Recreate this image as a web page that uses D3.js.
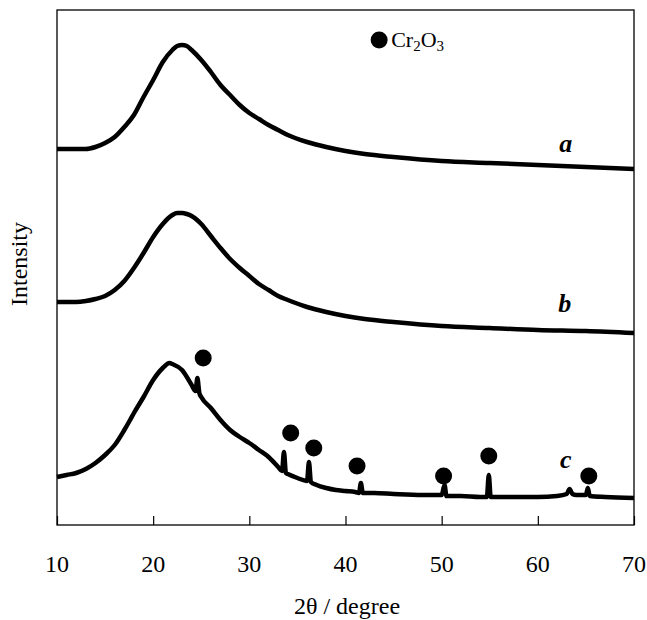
<!DOCTYPE html>
<html><head><meta charset="utf-8">
<script src="https://cdn.jsdelivr.net/npm/d3@7"></script>
<style>body{margin:0;background:#fff}svg{display:block}</style>
</head><body>
<svg id="c" width="647" height="620" font-family="'Liberation Serif','Times New Roman',serif"></svg>
<script>
const xTicks=[10,20,30,40,50,60,70];
const seriesA=[[10,376],[11,376],[12,376],[13,376],[14,378],[15,382],[16,388],[17,398],[18,410],[19,428],[20,445],[21,463],[22,475],[22.5,479],[23,480],[23.5,479],[24,475],[25,465],[26,453],[27,440],[28,430],[29,420],[30,412],[31,406],[32,400],[33,395],[34,390],[36,383],[38,378],[40,374],[42,371],[45,368],[50,364],[55,362],[60,360],[65,358],[70,356]];
const seriesB=[[10,223],[11,223],[12,223],[13,224],[14,226],[15,229],[16,235],[17,244],[18,257],[19,272],[20,288],[21,301],[22,310],[22.5,312],[23,312],[23.5,311],[24,309],[25,301],[26,289],[27,277],[28,266],[29,257],[30,249],[31,241],[32,235],[33,229],[34,225],[36,218],[38,213],[40,209],[42,206],[45,203],[50,199],[55,197],[60,195],[65,194],[70,192]];
const seriesC=[[10,48],[11,50],[12,52],[13,56],[14,62],[15,70],[16,80],[17,95],[17.6,105],[18,112],[19,128],[20,145],[21,157],[21.7,162],[22,161],[23,155],[24,140],[24.4,134],[24.6,147],[24.8,132],[25,128],[26,117],[27,105],[28,95],[29,88],[30,82],[31,75],[32,68],[33,58],[33.4,54],[33.6,73],[33.8,52],[34,51],[35,47],[36,44],[36.2,63],[36.4,43],[37,40],[38,37],[39,35],[40,34],[41,33],[41.4,32],[41.6,42],[41.8,32],[43,32],[45,31],[48,30],[50,30],[50.3,40],[50.5,29],[52,29],[54,28],[54.7,28],[54.9,50],[55.1,28],[57,28],[60,28],[62,29],[63,31],[63.3,36],[63.6,31],[64,30],[65,30],[65.2,37],[65.4,29],[67,28],[70,27]];
const markers=[[25.2,167],[34.3,92],[36.7,77],[41.2,59],[50.2,49],[54.9,69],[65.3,49]];
const labels=[["a",62.9,373],["b",62.8,213],["c",62.9,57]];
const legendPos=[43.5,485];

const svg=d3.select("#c");
const L=57,R=634,T=10,B=525;
const x=d3.scaleLinear().domain([10,70]).range([L,R]);
const y=d3.scaleLinear().domain([0,515]).range([B,T]);
const line=d3.line().x(d=>x(d[0])).y(d=>y(d[1])).curve(d3.curveMonotoneX);

svg.append("rect").attr("x",L).attr("y",T).attr("width",R-L).attr("height",B-T).attr("fill","none").attr("stroke","#000").attr("stroke-width",1.3);

const ax=svg.append("g").attr("transform",`translate(0,${B})`).call(d3.axisTop(x).tickValues(xTicks).tickSize(9).tickFormat(""));
ax.select(".domain").remove();
ax.selectAll("line").attr("stroke","#000").attr("stroke-width",1.2);
svg.append("g").selectAll("text").data(xTicks).join("text").attr("x",d=>x(d)).attr("y",572).attr("text-anchor","middle").attr("font-size",24).text(d=>d);

svg.append("text").attr("x",347).attr("y",614).attr("text-anchor","middle").attr("font-size",24).text("2θ / degree");
svg.append("text").attr("transform","translate(27,264) rotate(-90)").attr("text-anchor","middle").attr("font-size",24).text("Intensity");

[seriesA,seriesB,seriesC].forEach(s=>{
  svg.append("path").datum(s).attr("d",line).attr("fill","none").attr("stroke","#000").attr("stroke-width",4.5).attr("stroke-linejoin","round");
});
svg.append("g").selectAll("circle").data(markers).join("circle").attr("cx",d=>x(d[0])).attr("cy",d=>y(d[1])).attr("r",8.5).attr("fill","#000");
svg.append("g").selectAll("text").data(labels).join("text").attr("x",d=>x(d[1])).attr("y",d=>y(d[2])).attr("text-anchor","middle").attr("font-size",26).attr("font-style","italic").attr("font-weight","bold").text(d=>d[0]);

svg.append("circle").attr("cx",x(legendPos[0])).attr("cy",y(legendPos[1])).attr("r",8.5).attr("fill","#000");
const lt=svg.append("text").attr("x",x(legendPos[0])+12).attr("y",y(legendPos[1])+7).attr("font-size",22);
lt.append("tspan").text("Cr");
lt.append("tspan").attr("font-size",15).attr("dy",4).text("2");
lt.append("tspan").attr("dy",-4).text("O");
lt.append("tspan").attr("font-size",15).attr("dy",4).text("3");
</script>
</body></html>
